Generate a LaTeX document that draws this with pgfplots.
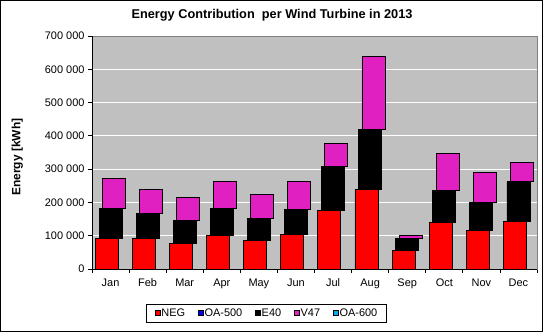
\documentclass[border=0pt]{standalone}
\usepackage{pgfplots}
\pgfplotsset{compat=1.18}
\usepackage{fontspec}
\setmainfont{Liberation Sans}
\definecolor{plotbg}{RGB}{192,192,192}
\definecolor{vmag}{RGB}{224,32,192}
\definecolor{framegray}{RGB}{128,128,128}
\begin{document}
\begin{tikzpicture}
\begin{axis}[name=ax, at={(0,0)}, anchor=south west,
  scale only axis, width=445bp, height=233bp,
  xmin=-0.5, xmax=11.5, ymin=0, ymax=700000,
  scaled y ticks=false,
  axis background/.style={fill=plotbg},
  axis line style={draw=framegray, line width=0.8bp},
  ybar stacked, bar width=0.62,
  xtick={0,...,11},
  xticklabels={Jan,Feb,Mar,Apr,May,Jun,Jul,Aug,Sep,Oct,Nov,Dec},
  xticklabel style={yshift=-2bp},
  major x tick style={draw=none},
  minor xtick={-0.5,0.5,...,11.5},
  minor x tick style={draw=black, line width=0.8bp},
  xtick pos=bottom, ytick pos=left,
  tick align=outside, major tick length=4bp, minor tick length=4bp,
  ytick={0,100000,...,700000},
  yticklabels={0,100 000,200 000,300 000,400 000,500 000,600 000,700 000},
  major y tick style={draw=black, line width=0.8bp},
  ymajorgrids, major grid style={draw=white, line width=0.8bp},
  tick label style={font=\fontsize{11}{13}\selectfont},
  title={Energy Contribution\ \ per Wind Turbine in 2013},
  every axis title/.style={at={(axis description cs:0.4045,1.09)}, anchor=center, inner sep=1bp, font=\bfseries\fontsize{12.8}{14}\selectfont},
  ylabel={Energy [kWh]},
  ylabel style={at={(axis description cs:-0.168,0.48)}, anchor=center, font=\bfseries\fontsize{12}{14}\selectfont},
  legend style={at={(axis description cs:0.3925,-0.189)}, anchor=center, draw=black, line width=0.8bp,
    inner xsep=8bp, inner ysep=3bp,
    nodes={inner sep=1.5bp},
    font=\fontsize{11}{13}\selectfont, legend columns=5,
    /tikz/every even column/.append style={column sep=11bp}},
  legend image code/.code={\draw[#1, draw=black, line width=0.4bp] (0bp,-2.5bp) rectangle (5bp,2.5bp);},
]
\addplot[fill=red, draw=black, line width=0.8bp, bar shift=-0.1, forget plot] coordinates {
(0,92000) (1,92000) (2,77000) (3,101000) (4,86000) (5,104000) (6,176000) (7,239000) (8,56000) (9,140000) (10,116000) (11,143000)};
\addplot[fill=black, draw=black, line width=0.8bp, bar shift=0, forget plot] coordinates {
(0,90000) (1,76000) (2,70000) (3,81000) (4,66000) (5,75000) (6,133000) (7,179000) (8,37000) (9,96000) (10,85000) (11,120000)};
\addplot[fill=vmag, draw=black, line width=0.8bp, bar shift=0.09, forget plot] coordinates {
(0,90000) (1,71000) (2,68000) (3,81000) (4,72000) (5,84000) (6,69000) (7,221000) (8,8000) (9,112000) (10,89000) (11,57000)};
\addlegendimage{fill=red}\addlegendentry{NEG}
\addlegendimage{fill=blue}\addlegendentry{OA-500}
\addlegendimage{fill=black}\addlegendentry{E40}
\addlegendimage{fill=vmag}\addlegendentry{V47}
\addlegendimage{fill=cyan}\addlegendentry{OA-600}
\draw[black, line width=0.8bp] (rel axis cs:0,1) -- (rel axis cs:0,0) -- (rel axis cs:1,0);
\end{axis}
\draw[black, line width=1bp] ([shift={(-91.5bp,-62.5bp)}]ax.south west) rectangle ([shift={(450.5bp,268.5bp)}]ax.south west);
\end{tikzpicture}
\end{document}
